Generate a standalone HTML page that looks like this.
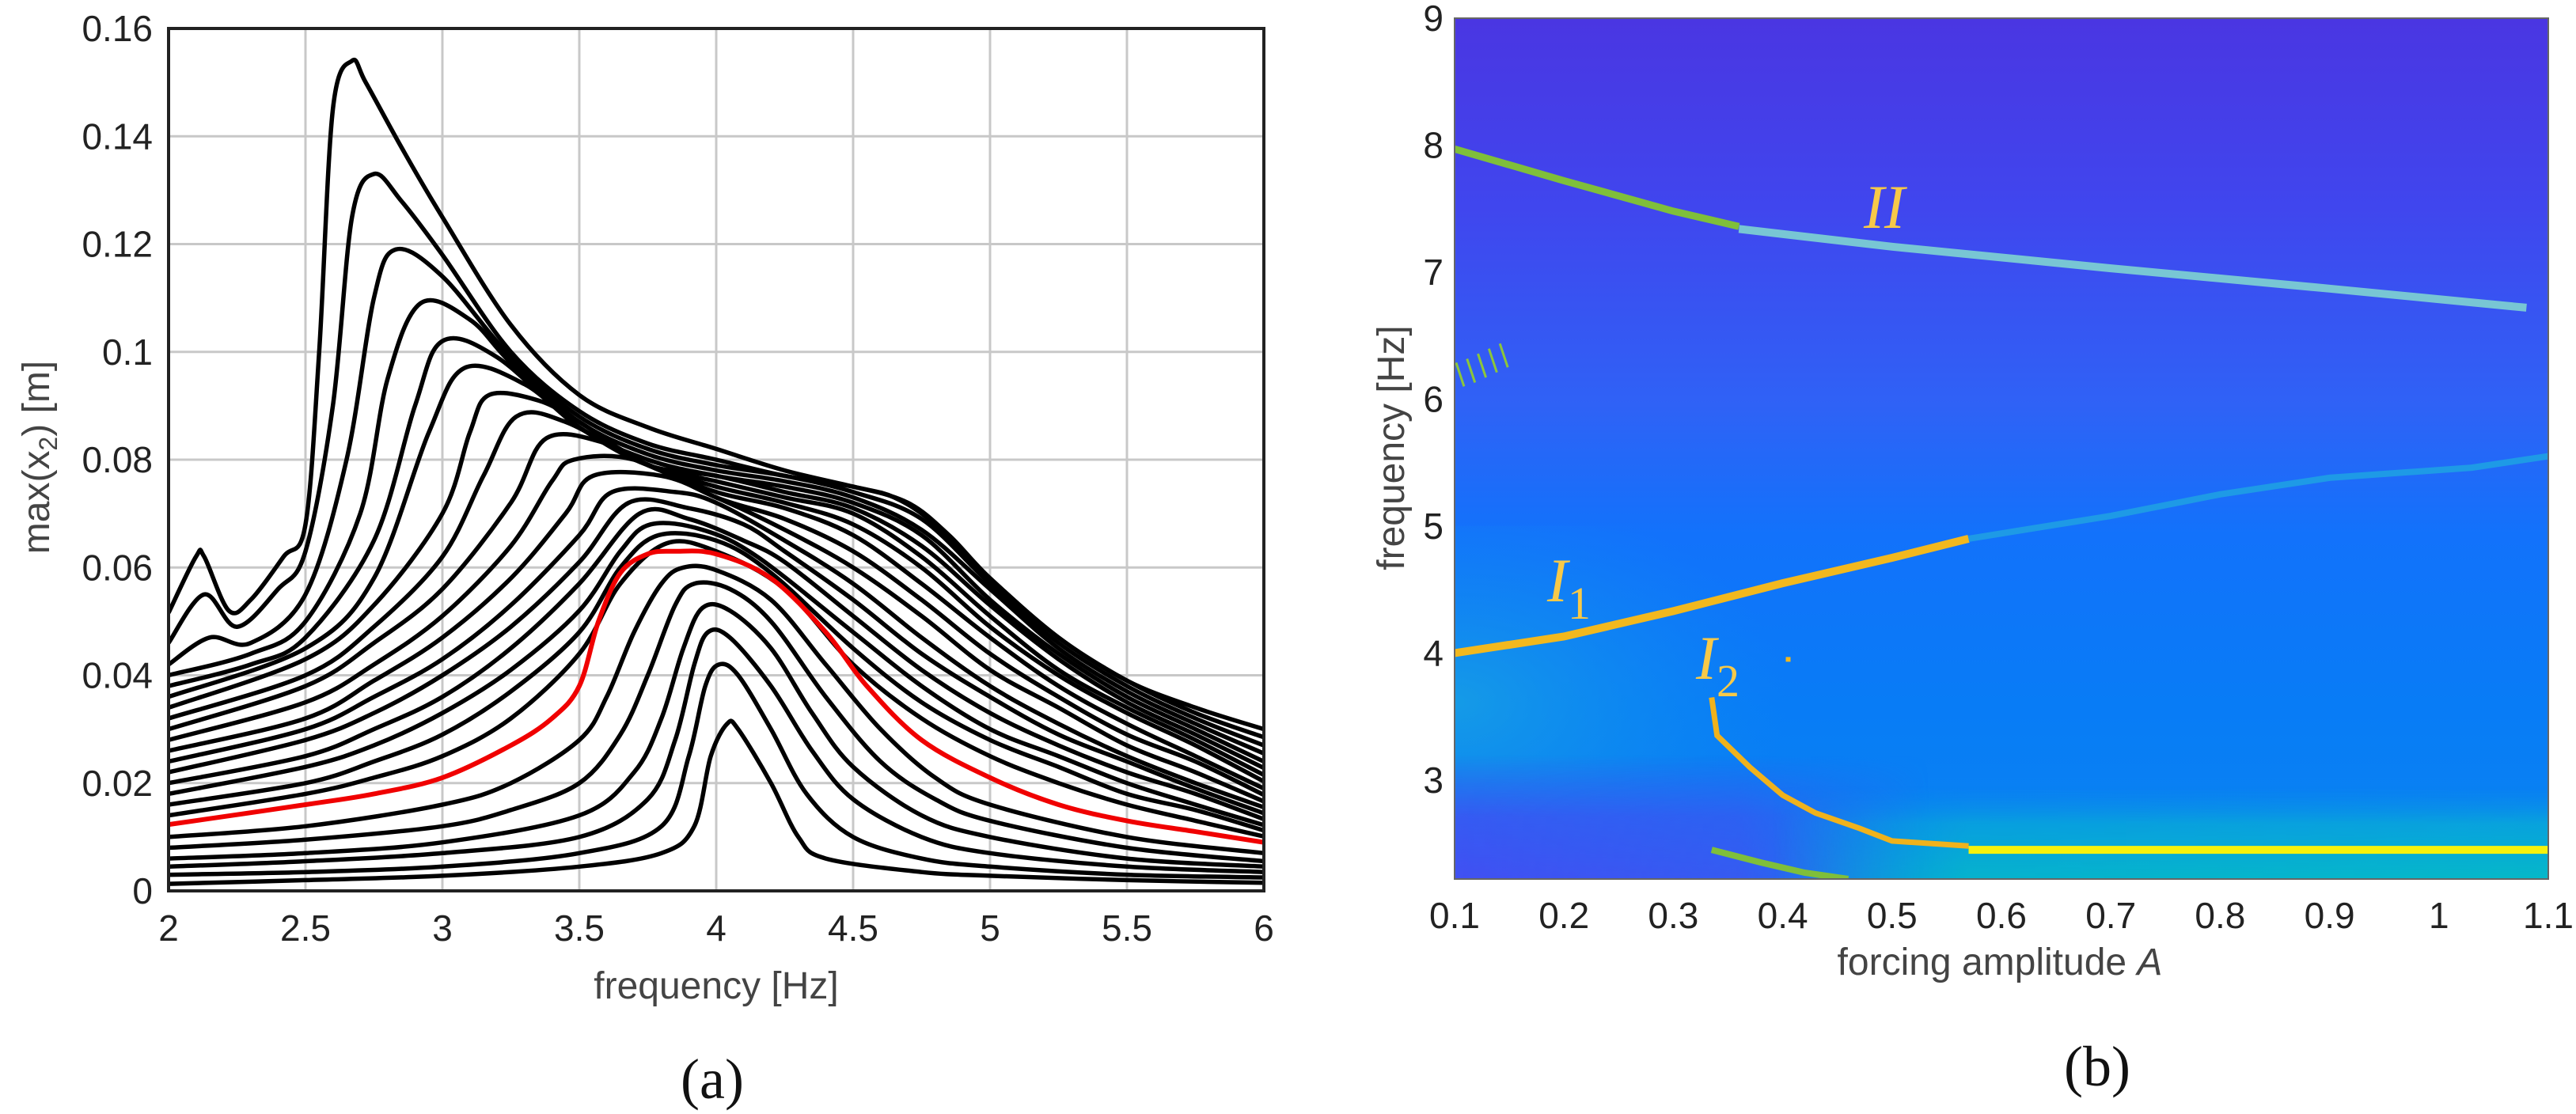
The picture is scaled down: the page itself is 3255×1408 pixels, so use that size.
<!DOCTYPE html>
<html><head><meta charset="utf-8"><style>
html,body{margin:0;padding:0;background:#fff;}
body{width:3255px;height:1408px;overflow:hidden;position:relative;font-family:"Liberation Sans",sans-serif;}
svg{position:absolute;left:0;top:0;}
</style></head>
<body>
<svg id="fig" width="3255" height="1408" viewBox="0 0 3255 1408" xmlns="http://www.w3.org/2000/svg">
<defs>
<linearGradient id="bgv" x1="0" y1="0" x2="0" y2="1">
<stop offset="0" stop-color="#4a36e2"/>
<stop offset="0.22" stop-color="#4046ee"/>
<stop offset="0.45" stop-color="#2f62f6"/>
<stop offset="0.6" stop-color="#1272fb"/>
<stop offset="0.8" stop-color="#087cf6"/>
<stop offset="1" stop-color="#0a84f0"/>
</linearGradient>
<linearGradient id="teal" x1="0" y1="0" x2="0" y2="1">
<stop offset="0" stop-color="#0a8cea" stop-opacity="0"/>
<stop offset="0.4" stop-color="#08a6da" stop-opacity="0.9"/>
<stop offset="1" stop-color="#05b8c8"/>
</linearGradient>
<linearGradient id="fadeH" x1="0" y1="0" x2="1" y2="0">
<stop offset="0" stop-color="#fff" stop-opacity="0"/>
<stop offset="0.25" stop-color="#fff" stop-opacity="0.9"/>
<stop offset="1" stop-color="#fff" stop-opacity="1"/>
</linearGradient>
<linearGradient id="fadeHrev" x1="0" y1="0" x2="1" y2="0">
<stop offset="0" stop-color="#fff" stop-opacity="1"/>
<stop offset="0.6" stop-color="#fff" stop-opacity="0.8"/>
<stop offset="1" stop-color="#fff" stop-opacity="0"/>
</linearGradient>
<mask id="mTeal"><rect x="2240" y="0" width="980" height="1408" fill="url(#fadeH)"/></mask>
<mask id="mLow"><rect x="1838" y="0" width="600" height="1408" fill="url(#fadeHrev)"/></mask>
<linearGradient id="lowv" x1="0" y1="0" x2="0" y2="1">
<stop offset="0" stop-color="#3d50f0" stop-opacity="0"/>
<stop offset="0.5" stop-color="#3d52f2" stop-opacity="0.85"/>
<stop offset="1" stop-color="#4150f2"/>
</linearGradient>
<radialGradient id="cyanleft" cx="0" cy="0.5" r="0.6">
<stop offset="0" stop-color="#1aa8e0"/>
<stop offset="1" stop-color="#1090f0" stop-opacity="0"/>
</radialGradient>
<clipPath id="clipA"><rect x="213" y="36" width="1384" height="1090"/></clipPath>
<clipPath id="clipB"><rect x="1838" y="23" width="1382" height="1088"/></clipPath>
</defs>
<g id="panelA"></g>
<g id="panelB"></g>
</svg>
<script>
// ---------- Panel (a) data ----------
const xTicksA = [2, 2.5, 3, 3.5, 4, 4.5, 5, 5.5, 6];
const xTickLabelsA = ["2","2.5","3","3.5","4","4.5","5","5.5","6"];
const yTicksA = [0, 0.02, 0.04, 0.06, 0.08, 0.1, 0.12, 0.14, 0.16];
const yTickLabelsA = ["0","0.02","0.04","0.06","0.08","0.1","0.12","0.14","0.16"];
const redIndex = 17;
const c0 = [[2,.0516],[2.1,.062],[2.13,.062],[2.22,.052],[2.3,.054],[2.42,.062],[2.5,.068],[2.55,.1],[2.6,.145],[2.67,.154],[2.72,.150],[2.85,.138],[3,.125],[3.25,.105],[3.5,.092],[3.75,.086],[4,.082],[4.25,.078],[4.5,.075],[4.65,.073],[4.8,.068],[5,.058],[5.25,.047],[5.5,.039],[5.75,.034],[6,.030]];
const c1 = [[2,.046],[2.13,.055],[2.25,.049],[2.4,.056],[2.5,.063],[2.6,.09],[2.67,.125],[2.75,.133],[2.85,.128],[3,.118],[3.25,.1],[3.5,.089],[3.75,.083],[4,.080],[4.25,.077],[4.5,.075],[4.7,.072],[4.85,.066],[5,.058],[5.25,.047],[5.5,.039],[5.75,.033],[6,.0285]];
const c2 = [[2,.042],[2.15,.047],[2.3,.046],[2.5,.055],[2.65,.08],[2.75,.11],[2.83,.119],[3,.114],[3.25,.099],[3.5,.088],[3.75,.082],[4,.079],[4.25,.077],[4.5,.074],[4.75,.069],[5,.057],[5.25,.046],[5.5,.038],[5.75,.032],[6,.027]];
const c3 = [[2,.040],[2.3,.044],[2.5,.05],[2.7,.07],[2.8,.095],[2.92,.109],[3.1,.106],[3.25,.098],[3.5,.087],[3.75,.081],[4,.078],[4.25,.076],[4.5,.073],[4.75,.067],[5,.056],[5.25,.045],[5.5,.037],[5.75,.031],[6,.0255]];
const c4 = [[2,.038],[2.3,.042],[2.5,.047],[2.75,.065],[2.9,.09],[3,.102],[3.2,.099],[3.5,.086],[3.75,.080],[4,.077],[4.25,.075],[4.5,.072],[4.75,.066],[5,.054],[5.25,.044],[5.5,.036],[5.75,.030],[6,.024]];
const c5 = [[2,.036],[2.5,.045],[2.75,.058],[2.95,.085],[3.08,.097],[3.3,.094],[3.5,.086],[3.75,.079],[4,.077],[4.25,.074],[4.5,.071],[4.75,.064],[5,.053],[5.25,.043],[5.5,.035],[5.75,.029],[6,.0228]];
const c6 = [[2,.034],[2.5,.043],[2.75,.053],[3,.07],[3.1,.085],[3.17,.092],[3.35,.091],[3.5,.087],[3.75,.079],[4,.076],[4.25,.073],[4.5,.070],[4.75,.062],[5,.051],[5.25,.041],[5.5,.034],[5.75,.028],[6,.0215]];
const c7 = [[2,.032],[2.5,.040],[2.75,.049],[3,.062],[3.15,.077],[3.27,.088],[3.45,.087],[3.75,.079],[4,.075],[4.25,.072],[4.5,.068],[4.75,.060],[5,.049],[5.25,.040],[5.5,.033],[5.75,.027],[6,.0203]];
const c8 = [[2,.030],[2.5,.038],[2.75,.046],[3,.056],[3.25,.072],[3.38,.084],[3.6,.083],[3.75,.079],[4,.074],[4.25,.071],[4.5,.066],[4.75,.057],[5,.047],[5.25,.038],[5.5,.031],[5.75,.025],[6,.019]];
const c9 = [[2,.028],[2.5,.035],[2.75,.042],[3,.051],[3.25,.064],[3.4,.076],[3.48,.080],[3.7,.080],[4,.073],[4.25,.069],[4.5,.063],[4.75,.054],[5,.044],[5.25,.036],[5.5,.029],[5.75,.024],[6,.0178]];
const c10 = [[2,.026],[2.5,.032],[2.75,.039],[3,.047],[3.25,.058],[3.45,.070],[3.55,.077],[3.8,.077],[4,.073],[4.25,.067],[4.5,.060],[4.75,.051],[5,.041],[5.25,.034],[5.5,.027],[5.75,.022],[6,.0166]];
const c11 = [[2,.024],[2.5,.030],[2.75,.036],[3,.043],[3.25,.053],[3.5,.066],[3.62,.074],[3.85,.074],[4,.072],[4.25,.065],[4.5,.057],[4.75,.047],[5,.038],[5.25,.031],[5.5,.025],[5.75,.020],[6,.0155]];
const c12 = [[2,.022],[2.5,.028],[2.75,.033],[3,.040],[3.25,.049],[3.5,.061],[3.68,.072],[3.9,.071],[4.1,.068],[4.25,.063],[4.5,.054],[4.75,.044],[5,.036],[5.25,.029],[5.5,.024],[5.75,.019],[6,.0144]];
const c13 = [[2,.020],[2.5,.025],[2.75,.030],[3,.036],[3.25,.045],[3.5,.057],[3.72,.070],[3.9,.069],[4.1,.065],[4.25,.061],[4.5,.051],[4.75,.041],[5,.033],[5.25,.027],[5.5,.022],[5.75,.018],[6,.0133]];
const c14 = [[2,.018],[2.5,.023],[2.75,.027],[3,.033],[3.25,.041],[3.5,.052],[3.65,.063],[3.76,.068],[3.95,.067],[4.15,.062],[4.5,.048],[4.75,.038],[5,.030],[5.25,.025],[5.5,.020],[5.75,.016],[6,.0122]];
const c15 = [[2,.016],[2.5,.020],[2.75,.024],[3,.029],[3.25,.037],[3.5,.048],[3.65,.060],[3.79,.066],[4,.065],[4.2,.059],[4.5,.045],[4.75,.035],[5,.028],[5.25,.023],[5.5,.018],[5.75,.015],[6,.0112]];
const c16 = [[2,.014],[2.5,.018],[2.75,.021],[3,.025],[3.25,.032],[3.5,.044],[3.65,.057],[3.82,.0645],[4,.063],[4.25,.056],[4.5,.042],[4.75,.032],[5,.025],[5.25,.020],[5.5,.016],[5.75,.013],[6,.0101]];
const c17 = [[2,.0123],[2.5,.016],[2.75,.018],[3,.021],[3.25,.027],[3.4,.032],[3.5,.038],[3.57,.050],[3.65,.059],[3.75,.0625],[3.85,.063],[4,.0625],[4.2,.058],[4.4,.048],[4.55,.038],[4.75,.028],[5,.021],[5.25,.016],[5.5,.013],[5.75,.011],[6,.009]];
const c18 = [[2,.010],[2.5,.012],[3,.016],[3.25,.020],[3.5,.028],[3.6,.036],[3.7,.048],[3.8,.057],[3.88,.060],[4,.0595],[4.2,.054],[4.4,.042],[4.6,.030],[4.8,.021],[5,.016],[5.5,.010],[6,.007]];
const c19 = [[2,.008],[2.5,.0095],[3,.012],[3.25,.015],[3.5,.020],[3.65,.029],[3.75,.040],[3.85,.053],[3.92,.057],[4.05,.056],[4.2,.050],[4.4,.036],[4.6,.024],[4.8,.017],[5,.013],[5.5,.008],[6,.0055]];
const c20 = [[2,.006],[2.5,.007],[3,.009],[3.5,.014],[3.7,.022],[3.8,.032],[3.88,.045],[3.95,.0525],[4.05,.052],[4.2,.045],[4.35,.033],[4.5,.023],[4.75,.014],[5,.010],[5.5,.006],[6,.0045]];
const c21 = [[2,.0045],[2.5,.0055],[3,.007],[3.5,.010],[3.75,.017],[3.85,.028],[3.92,.042],[3.97,.048],[4.05,.047],[4.2,.038],[4.35,.026],[4.5,.017],[4.75,.010],[5,.007],[5.5,.0045],[6,.0035]];
const c22 = [[2,.003],[2.5,.0035],[3,.0045],[3.5,.007],[3.8,.012],[3.9,.025],[3.96,.038],[4.01,.042],[4.08,.040],[4.2,.030],[4.33,.018],[4.5,.010],[4.75,.006],[5,.0045],[5.5,.003],[6,.0025]];
const c23 = [[2,.0013],[2.5,.002],[3,.0028],[3.5,.0045],[3.8,.007],[3.92,.012],[3.98,.025],[4.04,.031],[4.08,.030],[4.2,.020],[4.3,.010],[4.4,.006],[4.75,.0035],[5,.0028],[5.5,.002],[6,.0015]];
const curvesA = [c0,c1,c2,c3,c4,c5,c6,c7,c8,c9,c10,c11,c12,c13,c14,c15,c16,c17,c18,c19,c20,c21,c22,c23];

// ---------- Panel (b) data ----------
const xTicksB = [0.1,0.2,0.3,0.4,0.5,0.6,0.7,0.8,0.9,1,1.1];
const xTickLabelsB = ["0.1","0.2","0.3","0.4","0.5","0.6","0.7","0.8","0.9","1","1.1"];
const yTicksB = [3,4,5,6,7,8,9];
const yTickLabelsB = ["3","4","5","6","7","8","9"];
const branchIIgreen = [[0.1,7.97],[0.2,7.72],[0.3,7.48],[0.36,7.36]];
const branchIIcyan = [[0.36,7.34],[0.5,7.2],[0.7,7.03],[0.9,6.87],[1.08,6.72]];
const branchI1orange = [[0.1,4.0],[0.2,4.13],[0.3,4.33],[0.4,4.55],[0.5,4.75],[0.57,4.9]];
const branchI1blue = [[0.57,4.9],[0.7,5.08],[0.8,5.25],[0.9,5.38],[1.03,5.46],[1.1,5.55]];
const branchI2orange = [[0.335,3.65],[0.34,3.35],[0.37,3.1],[0.4,2.88],[0.43,2.74],[0.47,2.62],[0.5,2.52],[0.57,2.48]];
const branchI2yellow = [[0.57,2.45],[1.1,2.45]];
const branchLowGreen = [[0.335,2.45],[0.38,2.35],[0.42,2.27],[0.46,2.22]];
const isolatedDot = [[0.405,3.95]];
const hatchMarks = [[0.105,6.15],[0.115,6.18],[0.125,6.22],[0.135,6.26],[0.145,6.3]];

const NS = "http://www.w3.org/2000/svg";
function mk(tag, attrs, parent){ const e=document.createElementNS(NS,tag); for(const k in attrs) e.setAttribute(k,attrs[k]); parent.appendChild(e); return e; }

// axes A
const AX = {l:213,r:1597,t:36,b:1126,x0:2,x1:6,y0:0,y1:0.16};
const xA = v => AX.l + (v-AX.x0)/(AX.x1-AX.x0)*(AX.r-AX.l);
const yA = v => AX.b - (v-AX.y0)/(AX.y1-AX.y0)*(AX.b-AX.t);
const gA = document.getElementById('panelA');

xTicksA.forEach((v,i)=>{
  const ln = mk('line',{x1:xA(v),x2:xA(v),y1:AX.t,y2:AX.b,stroke:'#c8c8c8','stroke-width':3},gA);
  
  
  const t = mk('text',{x:xA(v),y:1189,'text-anchor':'middle','font-size':46,fill:'#222','font-family':'Liberation Sans, sans-serif'},gA);
  t.textContent = xTickLabelsA[i];
  
  
});
yTicksA.forEach((v,i)=>{
  const ln = mk('line',{x1:AX.l,x2:AX.r,y1:yA(v),y2:yA(v),stroke:'#c8c8c8','stroke-width':3},gA);
  
  
  const t = mk('text',{x:193,y:yA(v)+16,'text-anchor':'end','font-size':46,fill:'#222','font-family':'Liberation Sans, sans-serif'},gA);
  t.textContent = yTickLabelsA[i];
  
  
});

function smoothPath(pts, fx, fy){
  const P = pts.map(p=>[fx(p[0]),fy(p[1])]);
  let d = 'M'+P[0][0].toFixed(1)+','+P[0][1].toFixed(1);
  for(let i=0;i<P.length-1;i++){
    const p0=P[Math.max(0,i-1)],p1=P[i],p2=P[i+1],p3=P[Math.min(P.length-1,i+2)];
    const c1x=p1[0]+(p2[0]-p0[0])/6, c1y=p1[1]+(p2[1]-p0[1])/6;
    const c2x=p2[0]-(p3[0]-p1[0])/6, c2y=p2[1]-(p3[1]-p1[1])/6;
    d+=' C'+c1x.toFixed(1)+','+c1y.toFixed(1)+' '+c2x.toFixed(1)+','+c2y.toFixed(1)+' '+p2[0].toFixed(1)+','+p2[1].toFixed(1);
  }
  return d;
}
const gCurves = mk('g',{'clip-path':'url(#clipA)'},gA);


curvesA.forEach((c,i)=>{
  if(i===redIndex) return;
  const p = mk('path',{d:smoothPath(c,xA,yA),fill:'none',stroke:'#000','stroke-width':5.5,'stroke-linejoin':'round'},gCurves);
  
  
});
const red = mk('path',{d:smoothPath(curvesA[redIndex],xA,yA),fill:'none',stroke:'#f00000','stroke-width':6,'stroke-linejoin':'round'},gCurves);



const frA = mk('rect',{x:AX.l,y:AX.t,width:AX.r-AX.l,height:AX.b-AX.t,fill:'none',stroke:'#222','stroke-width':4},gA);


const xtA = mk('text',{x:905,y:1262,'text-anchor':'middle','font-size':48,fill:'#444','font-family':'Liberation Sans, sans-serif'},gA);
xtA.textContent='frequency [Hz]';


const ytA = mk('text',{x:0,y:0,'text-anchor':'middle','font-size':48,fill:'#444','font-family':'Liberation Sans, sans-serif',transform:'translate(62,578) rotate(-90)'},gA);
ytA.innerHTML = 'max(x<tspan font-size="32" dy="10">2</tspan><tspan dy="-10">) [m]</tspan>';


const capA = mk('text',{x:900,y:1388,'text-anchor':'middle','font-size':72,fill:'#111','font-family':'Liberation Serif, serif'},gA);
capA.textContent='(a)';



// axes B
const BX = {l:1838,r:3220,t:23,b:1111,x0:0.1,x1:1.1,y0:2.22,y1:9};
const xB = v => BX.l + (v-BX.x0)/(BX.x1-BX.x0)*(BX.r-BX.l);
const yB = v => BX.b - (v-BX.y0)/(BX.y1-BX.y0)*(BX.b-BX.t);
const gB = document.getElementById('panelB');
const gMap = mk('g',{'clip-path':'url(#clipB)'},gB);


mk('rect',{x:BX.l,y:BX.t,width:BX.r-BX.l,height:BX.b-BX.t,fill:'url(#bgv)'},gMap);
mk('rect',{x:BX.l,y:yB(5),width:700,height:yB(2.22)-yB(5),fill:'url(#cyanleft)',opacity:0.7},gMap);
mk('rect',{x:BX.l,y:yB(3.2),width:650,height:yB(2.22)-yB(3.2),fill:'url(#lowv)',mask:'url(#mLow)'},gMap);
mk('rect',{x:2240,y:yB(2.95),width:BX.r-2240,height:yB(2.22)-yB(2.95),fill:'url(#teal)',mask:'url(#mTeal)'},gMap);

function poly(pts,color,w,name){
  const p = mk('polyline',{points:pts.map(q=>xB(q[0]).toFixed(1)+','+yB(q[1]).toFixed(1)).join(' '),fill:'none',stroke:color,'stroke-width':w},gMap);
  
  
}
poly(branchIIgreen,'#7fbf3a',9,'branch-ii-green');
poly(branchIIcyan,'#78c6d4',10,'branch-ii-cyan');
poly(branchI1orange,'#f2b81e',10,'branch-i1-orange');
poly(branchI1blue,'#1e9ae6',8,'branch-i1-blue');
poly(branchI2orange,'#f0b21c',7,'branch-i2-orange');
poly(branchI2yellow,'#f6f20c',10,'branch-i2-yellow');
poly(branchLowGreen,'#7fbf3a',8,'branch-low-green');
isolatedDot.forEach(q=>{
  const r = mk('rect',{x:xB(q[0])-3,y:yB(q[1])-3,width:6,height:6,fill:'#f2b81e'},gMap);
  
  
});
hatchMarks.forEach(q=>{
  const l = mk('line',{x1:xB(q[0])-5,y1:yB(q[1])-22,x2:xB(q[0])+5,y2:yB(q[1])+8,stroke:'#8cc63a','stroke-width':3},gMap);
  
  
});

const frB = mk('rect',{x:BX.l,y:BX.t,width:BX.r-BX.l,height:BX.b-BX.t,fill:'none',stroke:'#666','stroke-width':2},gB);


xTicksB.forEach((v,i)=>{
  const t = mk('text',{x:xB(v),y:1173,'text-anchor':'middle','font-size':46,fill:'#222','font-family':'Liberation Sans, sans-serif'},gB);
  t.textContent = xTickLabelsB[i];
  
  
});
yTicksB.forEach((v,i)=>{
  const t = mk('text',{x:1824,y:yB(v)+16,'text-anchor':'end','font-size':46,fill:'#222','font-family':'Liberation Sans, sans-serif'},gB);
  t.textContent = yTickLabelsB[i];
  
  
});
const xtB = mk('text',{x:2527,y:1232,'text-anchor':'middle','font-size':48,fill:'#444','font-family':'Liberation Sans, sans-serif'},gB);
xtB.innerHTML='forcing amplitude  <tspan font-style="italic">A</tspan>';


const ytB = mk('text',{x:0,y:0,'text-anchor':'middle','font-size':48,fill:'#444','font-family':'Liberation Sans, sans-serif',transform:'translate(1774,566) rotate(-90)'},gB);
ytB.textContent='frequency [Hz]';


const capB = mk('text',{x:2650,y:1372,'text-anchor':'middle','font-size':72,fill:'#111','font-family':'Liberation Serif, serif'},gB);
capB.textContent='(b)';



function lab(x,y,main,sub,name){
  const t = mk('text',{x:x,y:y,'font-size':78,fill:'#f7c948','font-family':'Liberation Serif, serif','font-style':'italic'},gB);
  t.innerHTML = main + (sub?'<tspan font-style="normal" font-size="58" dy="22">'+sub+'</tspan>':'');
  
  
}
lab(2355,288,'II','','label-ii');
lab(1955,760,'I','1','label-i1');
lab(2143,858,'I','2','label-i2');
</script>
</body></html>
